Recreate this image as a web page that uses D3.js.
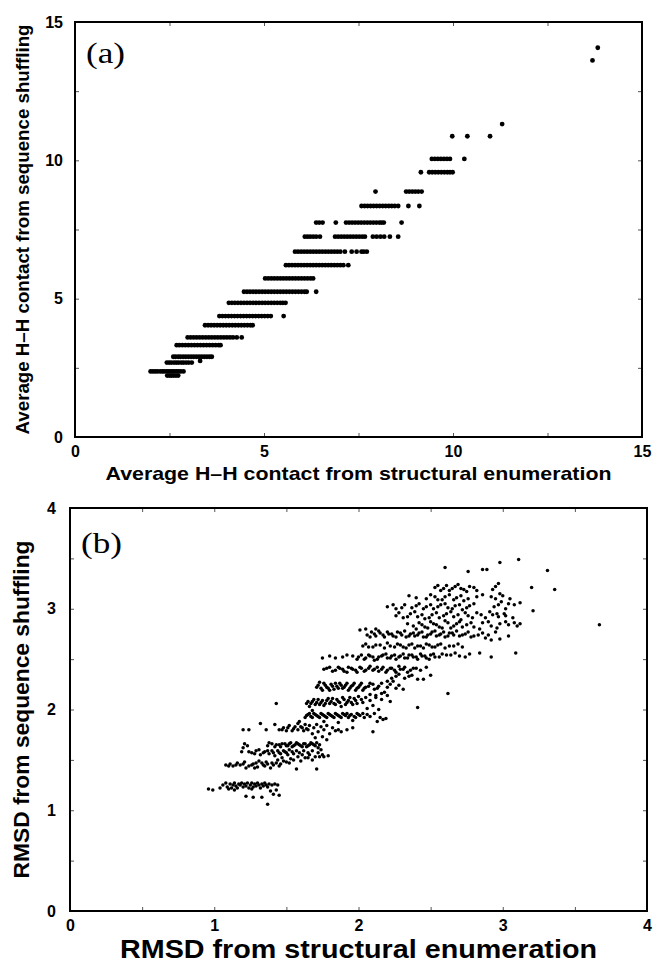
<!DOCTYPE html>
<html>
<head>
<meta charset="utf-8">
<script src="https://cdn.jsdelivr.net/npm/d3@7"></script>
<style>
  body { margin: 0; background: #fff; }
  svg { display: block; }
  text { font-family: "Liberation Sans", Arial, Helvetica, sans-serif; font-weight: bold; fill: #000; }
</style>
</head>
<body>
<svg width="654" height="963"></svg>
<script>

// ---- panel (a): average H-H contacts, bands of [y, xs...] ----
const hhBands = [
  [2.22, [2.44, 2.50, 2.55, 2.61, 2.67, 2.73]],
  [2.37, [2.00, 2.06, 2.12, 2.18, 2.25, 2.31, 2.36, 2.42, 2.47, 2.53, 2.58, 2.63, 2.69, 2.74, 2.80, 2.87]],
  [2.69, [2.43, 2.49, 2.55, 2.62, 2.68, 2.74, 2.81, 2.87, 2.94, 3.01, 3.09]],
  [2.75, [3.31]],
  [2.90, [2.60, 2.66, 2.73, 2.79, 2.86, 2.93, 3.00, 3.07, 3.14, 3.21, 3.28, 3.35, 3.42, 3.49, 3.56, 3.62]],
  [3.32, [2.69, 2.76, 2.84, 2.92, 3.00, 3.08, 3.16, 3.24, 3.32, 3.40, 3.48, 3.56, 3.64, 3.72, 3.80, 3.85]],
  [3.60, [2.98, 3.06, 3.14, 3.22, 3.30, 3.38, 3.46, 3.54, 3.62, 3.70, 3.78, 3.86, 3.94, 4.02, 4.10, 4.18, 4.28, 4.41]],
  [4.04, [3.44, 3.52, 3.60, 3.68, 3.76, 3.84, 3.92, 4.00, 4.08, 4.16, 4.24, 4.32, 4.40, 4.48, 4.56, 4.64, 4.70]],
  [4.37, [3.82, 3.90, 3.98, 4.06, 4.14, 4.22, 4.30, 4.38, 4.46, 4.54, 4.62, 4.70, 4.78, 4.86, 4.94, 5.02, 5.10, 5.18, 5.52]],
  [4.85, [4.07, 4.15, 4.23, 4.31, 4.39, 4.47, 4.55, 4.63, 4.71, 4.79, 4.87, 4.95, 5.03, 5.11, 5.19, 5.27, 5.35, 5.43, 5.50, 5.57]],
  [5.25, [4.47, 4.55, 4.63, 4.71, 4.79, 4.87, 4.95, 5.03, 5.11, 5.19, 5.27, 5.35, 5.43, 5.51, 5.59, 5.67, 5.75, 5.83, 5.91, 5.99, 6.07, 6.13, 6.38]],
  [5.73, [5.03, 5.11, 5.19, 5.27, 5.35, 5.43, 5.51, 5.59, 5.67, 5.75, 5.83, 5.91, 5.99, 6.07, 6.15, 6.23, 6.30]],
  [6.21, [5.58, 5.66, 5.74, 5.82, 5.90, 5.98, 6.06, 6.14, 6.22, 6.30, 6.38, 6.46, 6.54, 6.62, 6.70, 6.78, 6.86, 6.94, 7.02, 7.10, 7.23]],
  [6.70, [5.82, 5.90, 5.98, 6.06, 6.14, 6.22, 6.30, 6.38, 6.46, 6.54, 6.62, 6.70, 6.78, 6.86, 6.94, 7.02, 7.14, 7.32, 7.45, 7.58, 7.64, 7.72]],
  [7.24, [6.08, 6.15, 6.22, 6.30, 6.38, 6.48, 6.88, 6.96, 7.04, 7.12, 7.20, 7.28, 7.36, 7.44, 7.52, 7.60, 7.67, 7.88, 7.98, 8.08, 8.18, 8.33, 8.55]],
  [7.75, [6.38, 6.46, 6.55, 6.90, 7.17, 7.25, 7.33, 7.41, 7.49, 7.57, 7.65, 7.73, 7.81, 7.89, 7.97, 8.05, 8.11, 8.17, 8.64]],
  [8.35, [7.58, 7.66, 7.74, 7.82, 7.90, 7.98, 8.06, 8.14, 8.22, 8.30, 8.38, 8.46, 8.55, 8.82, 9.11]],
  [8.87, [7.95, 8.76, 8.84, 8.92, 9.00, 9.08, 9.17]],
  [9.57, [9.15, 9.37, 9.45, 9.53, 9.61, 9.69, 9.77, 9.85, 9.92, 9.99]],
  [10.05, [9.44, 9.52, 9.60, 9.68, 9.76, 9.84, 9.92, 10.30]],
  [10.87, [9.98, 10.38, 10.98]],
  [11.31, [11.30]],
  [13.61, [13.69]],
  [14.07, [13.83]]
];

// ---- panel (b): RMSD pairs [structural, shuffling] ----
const rmsdPoints = [
  [0.96,1.21],[0.99,1.20],[1.04,1.22],[1.06,1.25],[1.08,1.27],[1.09,1.23],[1.11,1.26],[1.12,1.22],[1.13,1.25],[1.14,1.27],
  [1.15,1.24],[1.16,1.22],[1.17,1.26],[1.18,1.25],[1.19,1.27],[1.20,1.23],[1.21,1.26],[1.22,1.24],[1.23,1.27],[1.24,1.22],
  [1.25,1.25],[1.26,1.27],[1.27,1.23],[1.28,1.26],[1.29,1.24],[1.30,1.27],[1.31,1.25],[1.32,1.22],[1.33,1.26],[1.34,1.24],
  [1.35,1.27],[1.36,1.25],[1.37,1.23],[1.38,1.26],[1.40,1.25],[1.42,1.26],[1.44,1.25],[1.10,1.21],[1.26,1.21],[1.14,1.20],
  [1.22,1.14],[1.27,1.13],[1.33,1.13],[1.41,1.16],[1.45,1.15],[1.37,1.06],[1.39,1.19],[1.43,1.20],
  [1.08,1.45],[1.11,1.46],[1.13,1.44],[1.16,1.47],[1.18,1.45],[1.21,1.48],[1.24,1.44],[1.27,1.46],[1.30,1.43],[1.33,1.47],
  [1.35,1.44],[1.37,1.46],[1.39,1.42],[1.41,1.45],[1.43,1.47],[1.45,1.44],[1.31,1.49],[1.22,1.42],
  [1.10,1.44],[1.15,1.45],[1.20,1.46],[1.26,1.45],[1.29,1.47],[1.34,1.45],[1.36,1.48],[1.40,1.47],[1.46,1.46],[1.48,1.49],
  [1.52,1.47],[1.55,1.50],[1.60,1.49],[1.65,1.52],[1.68,1.50],[1.28,1.42],
  [1.19,1.58],[1.21,1.66],[1.23,1.64],[1.26,1.57],[1.29,1.59],[1.32,1.55],[1.35,1.58],[1.38,1.56],[1.40,1.59],[1.42,1.54],
  [1.45,1.57],[1.47,1.52],[1.49,1.58],[1.51,1.55],[1.53,1.51],[1.55,1.56],[1.58,1.53],[1.61,1.55],[1.63,1.52],[1.66,1.55],
  [1.70,1.53],[1.73,1.53],[1.76,1.53],[1.57,1.41],[1.71,1.41],[1.50,1.48],[1.44,1.50],
  [1.20,1.62],[1.24,1.58],[1.28,1.56],[1.31,1.60],[1.34,1.57],[1.37,1.59],[1.41,1.57],[1.44,1.59],[1.46,1.56],[1.48,1.59],
  [1.50,1.57],[1.52,1.60],[1.54,1.58],[1.57,1.59],[1.59,1.57],[1.62,1.59],[1.65,1.57],[1.68,1.59],[1.72,1.57],[1.75,1.55],[1.79,1.54],
  [1.37,1.64],[1.40,1.66],[1.42,1.63],[1.45,1.65],[1.47,1.66],[1.50,1.64],[1.52,1.66],[1.54,1.63],[1.56,1.65],[1.58,1.66],
  [1.60,1.64],[1.62,1.66],[1.64,1.63],[1.66,1.65],[1.68,1.66],[1.70,1.64],[1.72,1.62],[1.74,1.60],
  [1.38,1.67],[1.43,1.65],[1.46,1.63],[1.49,1.66],[1.51,1.64],[1.53,1.67],[1.55,1.64],[1.57,1.67],[1.59,1.65],[1.61,1.63],
  [1.63,1.66],[1.65,1.64],[1.67,1.67],[1.69,1.65],[1.71,1.67],[1.73,1.65],
  [1.20,1.80],[1.24,1.80],[1.32,1.86],[1.36,1.80],[1.42,1.85],[1.45,1.80],[1.48,1.82],[1.50,1.79],[1.52,1.84],[1.55,1.81],
  [1.58,1.86],[1.60,1.83],[1.62,1.79],[1.65,1.80],[1.68,1.76],[1.72,1.78],[1.76,1.80],[1.80,1.76],[1.84,1.79],[1.88,1.78],
  [1.70,1.72],[1.78,1.70],[1.59,1.88],
  [1.47,1.80],[1.51,1.82],[1.54,1.79],[1.56,1.83],[1.58,1.80],[1.61,1.82],[1.63,1.85],[1.64,1.81],[1.66,1.84],[1.69,1.82],
  [1.71,1.85],[1.74,1.83],[1.78,1.84],[1.82,1.82],[1.86,1.80],[1.92,1.80],[1.96,1.82],[1.75,1.73],
  [1.63,1.92],[1.65,1.95],[1.67,1.93],[1.69,1.96],[1.71,1.94],[1.73,1.92],[1.75,1.95],[1.77,1.93],[1.79,1.96],[1.81,1.94],
  [1.83,1.92],[1.85,1.95],[1.87,1.93],[1.89,1.96],[1.91,1.94],[1.93,1.92],[1.95,1.95],[1.97,1.93],[1.99,1.96],[2.01,1.94],
  [2.04,1.92],[2.06,1.95],[1.76,1.88],[1.86,1.87],[1.96,1.89],[2.13,1.88],[2.17,1.90],[1.68,1.99],
  [1.64,1.94],[1.66,1.96],[1.68,1.92],[1.70,1.95],[1.72,1.93],[1.74,1.96],[1.76,1.94],[1.78,1.92],[1.80,1.95],[1.82,1.93],
  [1.84,1.96],[1.86,1.94],[1.88,1.92],[1.90,1.95],[1.92,1.96],[1.94,1.94],[1.98,1.92],[2.00,1.95],[2.03,1.96],[2.08,1.93],
  [2.11,1.96],[2.15,1.92],[2.19,1.91],
  [1.43,2.06],[1.64,2.06],[1.66,2.03],[1.68,2.08],[1.70,2.05],[1.72,2.10],[1.74,2.07],[1.76,2.04],[1.78,2.09],[1.80,2.06],
  [1.82,2.11],[1.84,2.05],[1.86,2.08],[1.88,2.03],[1.90,2.10],[1.92,2.07],[1.94,2.12],[1.96,2.05],[1.98,2.09],[2.00,2.13],
  [2.03,2.07],[2.06,2.01],[2.10,2.04],[2.14,2.00],
  [1.65,2.08],[1.67,2.06],[1.69,2.10],[1.71,2.07],[1.73,2.05],[1.75,2.09],[1.77,2.06],[1.79,2.11],[1.81,2.08],[1.83,2.06],
  [1.85,2.10],[1.87,2.07],[1.89,2.12],[1.91,2.05],[1.93,2.09],[1.95,2.07],[1.97,2.11],[1.99,2.06],[2.02,2.10],[2.05,2.12],
  [2.08,2.09],[2.12,2.14],[2.16,2.10],[2.22,2.08],
  [1.71,2.22],[1.73,2.27],[1.75,2.19],[1.77,2.24],[1.79,2.21],[1.81,2.25],[1.83,2.20],[1.85,2.23],[1.87,2.26],[1.89,2.21],
  [1.91,2.24],[1.93,2.19],[1.95,2.23],[1.97,2.26],[1.99,2.21],[2.01,2.24],[2.03,2.19],[2.05,2.22],[2.08,2.26],[2.11,2.20],
  [2.14,2.23],[2.18,2.17],[2.22,2.25],[2.26,2.21],[2.20,2.14],[2.12,2.12],
  [1.72,2.24],[1.74,2.21],[1.76,2.26],[1.78,2.22],[1.80,2.19],[1.82,2.23],[1.84,2.26],[1.86,2.21],[1.88,2.24],[1.90,2.22],
  [1.92,2.26],[1.94,2.21],[1.96,2.24],[1.98,2.19],[2.00,2.22],[2.02,2.26],[2.04,2.21],[2.07,2.23],[2.10,2.25],[2.13,2.21],
  [2.16,2.26],[2.20,2.22],[2.24,2.28],[2.28,2.24],[2.31,2.20],[2.16,2.16],[2.08,2.15],
  [1.76,2.40],[1.80,2.42],[1.84,2.39],[1.87,2.41],[1.90,2.38],[1.93,2.42],[1.96,2.40],[1.99,2.37],[2.02,2.41],[2.05,2.39],
  [2.08,2.43],[2.11,2.40],[2.14,2.38],[2.17,2.42],[2.20,2.39],[2.23,2.41],[2.26,2.37],[2.29,2.40],[2.32,2.42],[2.36,2.39],
  [2.40,2.41],[2.26,2.33],[2.32,2.31],[2.37,2.34],[2.45,2.30],[2.50,2.34],[2.20,2.28],
  [1.78,2.41],[1.82,2.38],[1.86,2.42],[1.89,2.40],[1.92,2.37],[1.95,2.41],[1.98,2.39],[2.01,2.42],[2.04,2.38],[2.07,2.41],
  [2.10,2.39],[2.13,2.42],[2.16,2.40],[2.19,2.37],[2.22,2.41],[2.25,2.39],[2.28,2.43],[2.31,2.40],[2.34,2.37],[2.38,2.41],
  [2.43,2.39],[2.47,2.42],[2.28,2.35],[2.35,2.33],[2.41,2.30],[2.23,2.31],
  [1.75,2.51],[1.84,2.51],[1.89,2.52],[1.96,2.53],[1.99,2.50],[2.02,2.54],[2.05,2.51],[2.08,2.53],[2.11,2.49],[2.14,2.52],
  [2.17,2.54],[2.20,2.51],[2.23,2.53],[2.26,2.50],[2.29,2.53],[2.32,2.51],[2.35,2.54],[2.38,2.52],[2.41,2.50],[2.44,2.53],
  [2.47,2.51],[2.50,2.54],[2.53,2.52],[2.58,2.55],[2.64,2.54],[2.70,2.53],[2.77,2.55],[2.84,2.56],[2.92,2.52],[3.09,2.56],
  [1.80,2.53],[1.92,2.54],[2.00,2.52],[2.04,2.50],[2.07,2.54],[2.10,2.52],[2.13,2.50],[2.16,2.53],[2.19,2.55],[2.22,2.51],
  [2.25,2.54],[2.28,2.52],[2.31,2.55],[2.34,2.51],[2.37,2.54],[2.40,2.52],[2.43,2.55],[2.46,2.53],[2.49,2.50],[2.52,2.55],
  [2.56,2.52],[2.61,2.54],[2.67,2.56],[2.74,2.52],
  [2.03,2.63],[2.07,2.62],[2.12,2.64],[2.18,2.61],[2.22,2.63],[2.27,2.65],[2.31,2.62],[2.35,2.64],[2.39,2.61],[2.43,2.63],
  [2.47,2.65],[2.51,2.62],[2.55,2.64],[2.60,2.61],[2.66,2.63],[2.72,2.62],
  [2.05,2.65],[2.10,2.62],[2.15,2.64],[2.20,2.66],[2.25,2.62],[2.29,2.64],[2.33,2.61],[2.37,2.65],[2.41,2.63],[2.45,2.61],
  [2.49,2.64],[2.53,2.62],[2.57,2.65],[2.63,2.63],[2.69,2.65],
  [2.01,2.79],[2.06,2.74],[2.09,2.77],[2.12,2.73],[2.15,2.76],[2.18,2.72],[2.21,2.75],[2.24,2.73],[2.27,2.77],[2.30,2.74],
  [2.33,2.72],[2.36,2.75],[2.39,2.73],[2.42,2.76],[2.45,2.72],[2.48,2.74],[2.51,2.77],[2.54,2.73],[2.57,2.75],[2.60,2.72],
  [2.63,2.76],[2.66,2.74],[2.70,2.73],[2.74,2.75],[2.78,2.72],[2.83,2.74],[2.88,2.71],[2.92,2.69],[2.98,2.70],[3.04,2.73],
  [2.08,2.72],[2.11,2.75],[2.14,2.78],[2.17,2.74],[2.20,2.77],[2.23,2.75],[2.26,2.72],[2.29,2.76],[2.32,2.78],[2.35,2.73],
  [2.38,2.76],[2.41,2.74],[2.44,2.77],[2.47,2.72],[2.50,2.75],[2.53,2.78],[2.56,2.74],[2.59,2.77],[2.62,2.73],[2.65,2.76],
  [2.68,2.78],[2.72,2.74],[2.76,2.77],[2.80,2.73],[2.86,2.76],[2.90,2.74],[2.95,2.77],[2.05,2.80],[2.12,2.80],
  [2.34,2.85],[2.38,2.83],[2.42,2.86],[2.46,2.82],[2.50,2.87],[2.54,2.84],[2.58,2.81],[2.62,2.86],[2.66,2.83],[2.70,2.87],
  [2.75,2.84],[2.80,2.82],[2.86,2.86],[2.92,2.83],[2.98,2.85],[3.04,2.84],[3.08,2.86],[3.12,2.85],[3.67,2.84],
  [2.40,2.80],[2.44,2.84],[2.48,2.81],[2.52,2.85],[2.56,2.82],[2.60,2.88],[2.64,2.81],[2.68,2.85],[2.72,2.82],[2.78,2.86],
  [2.84,2.80],[2.90,2.87],[2.96,2.81],[3.02,2.87],[3.10,2.83],
  [2.26,2.93],[2.31,2.91],[2.36,2.95],[2.41,2.92],[2.46,2.90],[2.51,2.94],[2.56,2.91],[2.61,2.95],[2.66,2.92],[2.71,2.89],
  [2.76,2.93],[2.82,2.96],[2.88,2.91],[2.93,2.94],[2.97,2.92],[3.01,2.95],
  [2.28,2.96],[2.34,2.92],[2.39,2.97],[2.44,2.94],[2.49,2.91],[2.54,2.96],[2.59,2.93],[2.64,2.97],[2.69,2.94],[2.74,2.96],
  [2.79,2.91],[2.85,2.94],[2.91,2.97],[2.96,2.95],[3.02,2.93],[3.07,2.91],
  [2.20,3.02],[2.26,3.00],[2.32,3.04],[2.37,3.01],[2.42,3.05],[2.47,3.02],[2.52,3.00],[2.57,3.04],[2.62,3.01],[2.67,3.03],
  [2.72,2.99],[2.77,3.03],[2.94,3.02],[2.99,3.07],[3.04,3.05],[3.08,3.04],[3.12,3.06],[3.21,2.98],
  [2.24,3.04],[2.30,3.01],[2.40,3.03],[2.45,3.00],[2.50,3.04],[2.55,3.02],[2.60,3.05],[2.65,3.00],[2.70,3.04],[2.75,3.01],
  [2.80,3.05],[2.97,3.04],[3.02,3.00],
  [2.35,3.13],[2.47,3.10],[2.53,3.12],[2.58,3.09],[2.63,3.14],[2.68,3.11],[2.73,3.08],[2.82,3.12],[2.95,3.10],[3.00,3.13],[3.05,3.10],
  [2.40,3.11],[2.50,3.14],[2.55,3.09],[2.60,3.12],[2.66,3.09],[2.71,3.13],[2.76,3.10],[2.86,3.14],[2.92,3.12],[2.98,3.15],
  [2.53,3.21],[2.57,3.18],[2.61,3.23],[2.65,3.20],[2.69,3.24],[2.73,3.19],[2.77,3.22],[2.82,3.18],[2.95,3.22],[3.20,3.21],[3.36,3.19],
  [2.55,3.23],[2.59,3.20],[2.63,3.18],[2.67,3.22],[2.71,3.20],[2.75,3.17],[2.80,3.21],[2.93,3.19],[2.97,3.25],
  [2.60,3.41],[2.76,3.37],[2.86,3.39],[2.89,3.39],[2.98,3.46],[3.11,3.49],[3.31,3.38],
  [2.62,2.16],[2.41,2.02],[2.10,1.78]
];

const hhTicks = [0, 5, 10, 15];
const rmsdTicks = [0, 1, 2, 3, 4];

const svg = d3.select('svg');

// one framed scatter panel
function drawPanel(p) {
  const x = d3.scaleLinear().domain([0, p.max]).range([p.left, p.right]);
  const y = d3.scaleLinear().domain([0, p.max]).range([p.bottom, p.top]);
  const g = svg.append('g');
  const minor = d3.range(0, p.max + 1e-9, p.minor);

  // small inward ticks on all four sides
  const tickSides = [
    [d3.axisBottom(x), 'translate(0,' + p.bottom + ')'],
    [d3.axisTop(x), 'translate(0,' + p.top + ')'],
    [d3.axisLeft(y), 'translate(' + p.left + ',0)'],
    [d3.axisRight(y), 'translate(' + p.right + ',0)']
  ];
  tickSides.forEach(function(s) {
    const a = g.append('g').attr('transform', s[1])
      .call(s[0].tickValues(minor).tickSize(-4).tickFormat(''));
    a.select('.domain').remove();
    a.selectAll('line').attr('stroke', '#555').attr('stroke-width', 1);
  });

  // tick labels
  const xl = g.append('g').attr('transform', 'translate(0,' + p.bottom + ')')
    .call(d3.axisBottom(x).tickValues(p.ticks).tickSize(0).tickPadding(p.xPad).tickFormat(d3.format('d')));
  const yl = g.append('g').attr('transform', 'translate(' + p.left + ',0)')
    .call(d3.axisLeft(y).tickValues(p.ticks).tickSize(0).tickPadding(p.yPad).tickFormat(d3.format('d')));
  [xl, yl].forEach(function(a) {
    a.select('.domain').remove();
    a.selectAll('text').attr('font-family', null).attr('font-size', null)
      .style('font-size', p.tickFont + 'px');
  });

  // frame
  g.append('rect')
    .attr('x', p.left).attr('y', p.top)
    .attr('width', p.right - p.left).attr('height', p.bottom - p.top)
    .attr('fill', 'none').attr('stroke', '#000').attr('stroke-width', 2);

  // points
  g.append('g').selectAll('circle')
    .data(p.points).enter()
    .append('circle')
    .attr('cx', d => x(d[0]))
    .attr('cy', d => y(d[1]))
    .attr('r', p.r)
    .attr('fill', '#000');

  // panel letter
  g.append('text')
    .attr('x', p.left + 11).attr('y', p.letterY)
    .attr('textLength', p.letterW).attr('lengthAdjust', 'spacingAndGlyphs')
    .style('font-family', '"Liberation Serif", "Times New Roman", serif')
    .style('font-weight', 'normal')
    .style('font-size', p.letterFont + 'px')
    .text(p.letter);

  // axis titles
  g.append('text')
    .attr('x', (p.left + p.right) / 2).attr('y', p.xTitleY)
    .attr('text-anchor', 'middle')
    .attr('textLength', p.xTitleW).attr('lengthAdjust', 'spacingAndGlyphs')
    .style('font-size', p.xTitleFont + 'px')
    .text(p.xTitle);

  g.append('text')
    .attr('transform', 'translate(' + p.yTitleX + ',' + (p.top + p.bottom) / 2 + ') rotate(-90)')
    .attr('text-anchor', 'middle')
    .attr('textLength', p.yTitleW).attr('lengthAdjust', 'spacingAndGlyphs')
    .style('font-size', p.yTitleFont + 'px')
    .text(p.yTitle);
}

const hhPoints = [];
hhBands.forEach(function(b) {
  b[1].forEach(function(v) { hhPoints.push([v, b[0]]); });
});

drawPanel({
  left: 75, right: 642, top: 22, bottom: 437, max: 15, minor: 2.5,
  ticks: hhTicks, tickFont: 16, xPad: 9, yPad: 12,
  points: hhPoints, r: 2.4,
  letter: '(a)', letterFont: 29, letterY: 63, letterW: 39,
  xTitle: 'Average H\u2013H contact from structural enumeration', xTitleY: 480, xTitleFont: 19, xTitleW: 506,
  yTitle: 'Average H\u2013H contact from sequence shuffling', yTitleX: 29, yTitleFont: 19, yTitleW: 410
});

drawPanel({
  left: 70, right: 647, top: 508, bottom: 911, max: 4, minor: 0.5,
  ticks: rmsdTicks, tickFont: 16, xPad: 9, yPad: 14,
  points: rmsdPoints, r: 1.75,
  letter: '(b)', letterFont: 29, letterY: 553, letterW: 41,
  xTitle: 'RMSD from structural enumeration', xTitleY: 958, xTitleFont: 25, xTitleW: 477,
  yTitle: 'RMSD from sequence shuffling', yTitleX: 29, yTitleFont: 22, yTitleW: 338
});
</script>
</body>
</html>
